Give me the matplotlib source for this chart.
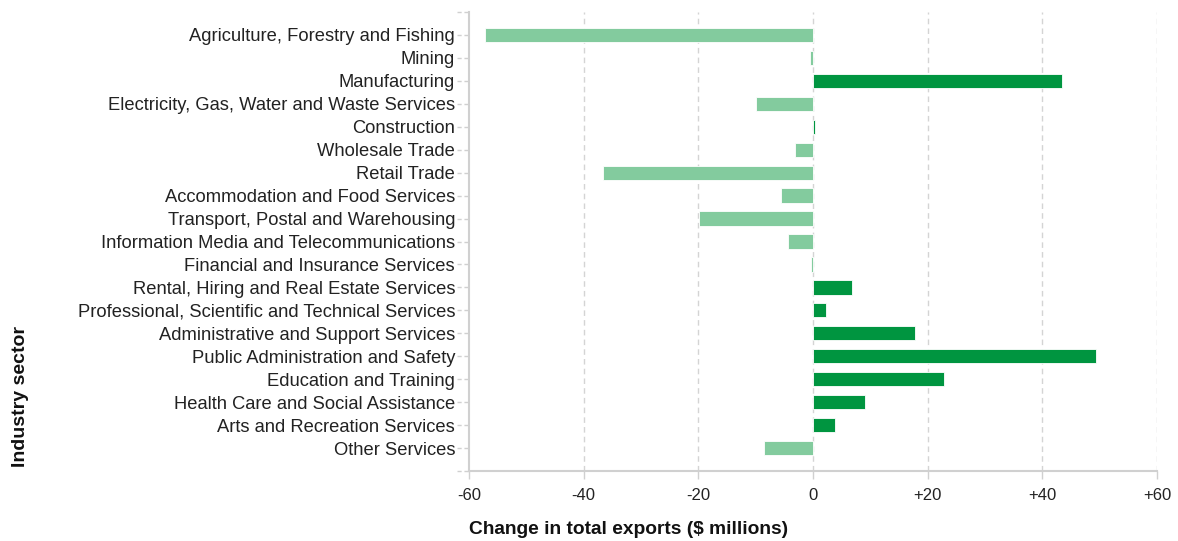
import matplotlib
matplotlib.use("Agg")
import matplotlib.pyplot as plt
from matplotlib.ticker import FuncFormatter, FixedLocator
import matplotlib.transforms as mtransforms

plt.rcParams['font.family'] = ['Liberation Sans', 'DejaVu Sans']

sectors = [
    "Agriculture, Forestry and Fishing",
    "Mining",
    "Manufacturing",
    "Electricity, Gas, Water and Waste Services",
    "Construction",
    "Wholesale Trade",
    "Retail Trade",
    "Accommodation and Food Services",
    "Transport, Postal and Warehousing",
    "Information Media and Telecommunications",
    "Financial and Insurance Services",
    "Rental, Hiring and Real Estate Services",
    "Professional, Scientific and Technical Services",
    "Administrative and Support Services",
    "Public Administration and Safety",
    "Education and Training",
    "Health Care and Social Assistance",
    "Arts and Recreation Services",
    "Other Services",
]
change = [-57.2, -0.6, 43.5, -10.0, 0.3, -3.1, -36.7, -5.5, -19.9, -4.3,
          -0.35, 6.8, 2.2, 17.8, 49.4, 22.9, 9.0, 3.9, -8.6]
x_ticks = [-60, -40, -20, 0, 20, 40, 60]

dark_green = "#009540"
light_green = "#83CB9E"
grid_grey = "#d4d4d4"
axis_grey = "#d0d0d0"

W, H = 1178, 541
fig = plt.figure(figsize=(W / 100, H / 100), dpi=100)
ax = fig.add_axes([469 / W, (H - 471) / H, (1157 - 469) / W, (471 - 12) / H])

rows = list(range(len(sectors)))
colors = [dark_green if v >= 0 else light_green for v in change]

# dashed vertical reference lines behind the bars
for xv in x_ticks[1:]:
    ax.axvline(xv, color=grid_grey, lw=1.0, ls=(0, (4, 3)), zorder=0)

ax.barh(rows, change, height=0.62, color=colors, edgecolor="white",
        linewidth=0.6, zorder=2)

ax.set_xlim(-60, 60)
ax.set_ylim(len(sectors), -1)

ax.xaxis.set_major_locator(FixedLocator(x_ticks))
ax.xaxis.set_major_formatter(FuncFormatter(
    lambda v, p: "0" if v == 0 else f"{v:+.0f}"))
ax.set_yticks(rows)
ax.set_yticklabels(sectors)

for s in ["top", "right"]:
    ax.spines[s].set_visible(False)
for s in ["left", "bottom"]:
    ax.spines[s].set_color(axis_grey)
    ax.spines[s].set_linewidth(1.5)

ax.tick_params(axis="x", length=6, width=1, color=axis_grey, pad=6,
               labelsize=12, labelcolor="#222222")
ax.tick_params(axis="y", length=0, pad=10, labelsize=13.2, labelcolor="#222222")

# dashed tick marks on the category axis
trans = mtransforms.blended_transform_factory(ax.transAxes, ax.transData)
for r in rows + [-1, len(sectors)]:
    ax.plot([-0.018, 0], [r, r], transform=trans, color=axis_grey, lw=1.0,
            ls=(0, (3, 2)), clip_on=False, zorder=1)

ax.set_xlabel("Change in total exports ($ millions)", fontsize=13.8,
              fontweight="bold", loc="left", labelpad=13, color="#111111")
ax.set_ylabel("Industry sector", fontsize=14, fontweight="bold",
              loc="bottom", color="#111111")
ax.yaxis.set_label_coords(-440 / (1157 - 469), 4 / (471 - 12))

fig.savefig("out.png", dpi=100, facecolor="white")
